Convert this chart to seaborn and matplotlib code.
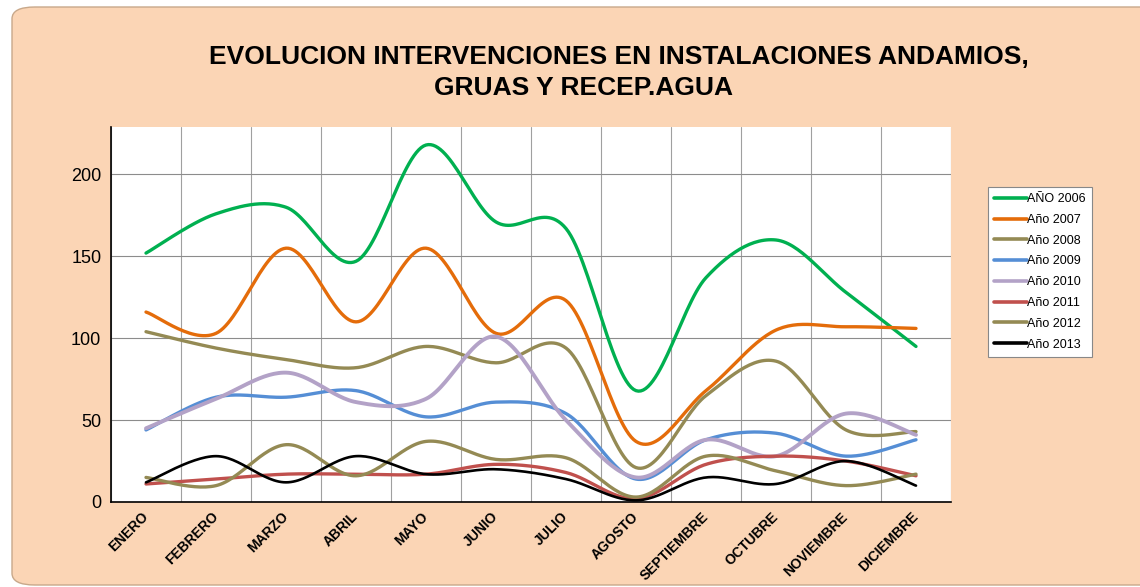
import numpy as np
import pandas as pd
import seaborn as sns
import matplotlib.pyplot as plt
from matplotlib.patches import FancyBboxPatch

# meses y valores por año
meses = ['ENERO', 'FEBRERO', 'MARZO', 'ABRIL', 'MAYO', 'JUNIO', 'JULIO',
         'AGOSTO', 'SEPTIEMBRE', 'OCTUBRE', 'NOVIEMBRE', 'DICIEMBRE']

anio_2006 = [152, 176, 180, 147, 218, 171, 167, 68, 137, 160, 128, 95]
anio_2007 = [116, 103, 155, 110, 155, 103, 123, 37, 68, 105, 107, 106]
anio_2008 = [104, 94, 87, 82, 95, 85, 94, 21, 65, 86, 44, 43]
anio_2009 = [44, 64, 64, 68, 52, 61, 54, 14, 38, 42, 28, 38]
anio_2010 = [45, 63, 79, 61, 63, 101, 50, 15, 38, 28, 54, 41]
anio_2011 = [11, 14, 17, 17, 17, 23, 18, 2, 23, 28, 25, 16]
anio_2012 = [15, 10, 35, 16, 37, 26, 27, 3, 28, 19, 10, 17]
anio_2013 = [12, 28, 12, 28, 17, 20, 14, 1, 15, 11, 25, 10]

series = [
    ('AÑO 2006', anio_2006, '#00B050', 2.4),
    ('Año 2007', anio_2007, '#E46C0A', 2.4),
    ('Año 2008', anio_2008, '#948A54', 2.4),
    ('Año 2009', anio_2009, '#558ED5', 2.4),
    ('Año 2010', anio_2010, '#B3A2C7', 2.8),
    ('Año 2011', anio_2011, '#C0504D', 2.4),
    ('Año 2012', anio_2012, '#948A54', 2.4),
    ('Año 2013', anio_2013, '#000000', 1.9),
]


def suavizar(y, n=30):
    # linea suavizada tipo Excel (bezier catmull-rom)
    x = np.arange(len(y), dtype=float)
    p = np.column_stack([x, np.asarray(y, dtype=float)])
    p = np.vstack([p[0], p, p[-1]])
    t = np.linspace(0, 1, n)[:, None]
    out = []
    for i in range(1, len(p) - 2):
        p0, p3 = p[i], p[i + 1]
        p1 = p0 + (p[i + 1] - p[i - 1]) / 6
        p2 = p3 - (p[i + 2] - p[i]) / 6
        seg = ((1 - t) ** 3) * p0 + 3 * ((1 - t) ** 2) * t * p1 + 3 * (1 - t) * t ** 2 * p2 + t ** 3 * p3
        out.append(seg if i == 1 else seg[1:])
    out = np.vstack(out)
    return out[:, 0], out[:, 1]


sns.set_style('white')
plt.rcParams['font.family'] = ['Liberation Sans', 'DejaVu Sans']
plt.rcParams['text.color'] = 'black'
plt.rcParams['xtick.color'] = 'black'
plt.rcParams['ytick.color'] = 'black'

fig = plt.figure(figsize=(11.4, 5.87), dpi=100, facecolor='white')
fondo = FancyBboxPatch((12 / 1140, 2 / 587), 1.2, 578 / 587,
                       boxstyle='round,pad=0,rounding_size=0.02',
                       transform=fig.transFigure, facecolor='#FBD5B5',
                       edgecolor='#C8A88A', linewidth=1.0, zorder=-10)
fig.patches.append(fondo)

ax = fig.add_axes([111 / 1140, 1 - 502 / 587, 840 / 1140, 375 / 587])
ax.set_facecolor('white')
ax.set_zorder(1)

for nombre, vals, color, lw in series:
    xs, ys = suavizar(vals)
    sns.lineplot(x=xs, y=ys, sort=False, color=color, linewidth=lw,
                 label=nombre, ax=ax, solid_capstyle='round')

ax.set_xlim(-0.5, 11.5)
ax.set_ylim(0, 229)
ax.set_yticks([0, 50, 100, 150, 200])
ax.set_xticks(range(12))
ax.set_xticklabels(meses, rotation=45, ha='right', va='center',
                   rotation_mode='anchor', fontsize=10, fontweight='bold')
ax.set_xticks(np.arange(-0.5, 12, 1), minor=True)
ax.tick_params(axis='x', which='major', length=0, pad=9)
ax.tick_params(axis='x', which='minor', length=5, color='#333333', direction='out')
ax.tick_params(axis='y', labelsize=13, length=5, color='#888888', direction='out', pad=2)
ax.yaxis.grid(True, color='#8c8c8c', linewidth=0.8)
ax.xaxis.grid(True, which='minor', color='#a0a0a0', linewidth=0.8)
ax.set_axisbelow(True)
for s in ['top', 'right']:
    ax.spines[s].set_visible(False)
ax.spines['left'].set_color('black')
ax.spines['bottom'].set_color('black')
ax.spines['left'].set_linewidth(1.2)
ax.spines['bottom'].set_linewidth(1.2)

ax.legend_.remove()
h, l = ax.get_legend_handles_labels()
leg = fig.legend(h, l, loc='upper left', bbox_to_anchor=(988 / 1140, 1 - 187 / 587),
                 fontsize=9, frameon=True, fancybox=False, edgecolor='#888888',
                 facecolor='white', framealpha=1,
                 handlelength=2.6, handletextpad=0.0, labelspacing=0.7,
                 borderpad=0.5, borderaxespad=0)
leg.get_frame().set_linewidth(0.8)
for ln in leg.get_lines():
    ln.set_linewidth(2.6)

fig.text(619 / 1140, 1 - 57 / 587, 'EVOLUCION INTERVENCIONES EN INSTALACIONES ANDAMIOS,',
         ha='center', va='center', fontsize=19, fontweight='bold')
fig.text(584 / 1140, 1 - 88 / 587, 'GRUAS Y RECEP.AGUA',
         ha='center', va='center', fontsize=19, fontweight='bold')

fig.savefig('out.png', dpi=100, facecolor='white')
